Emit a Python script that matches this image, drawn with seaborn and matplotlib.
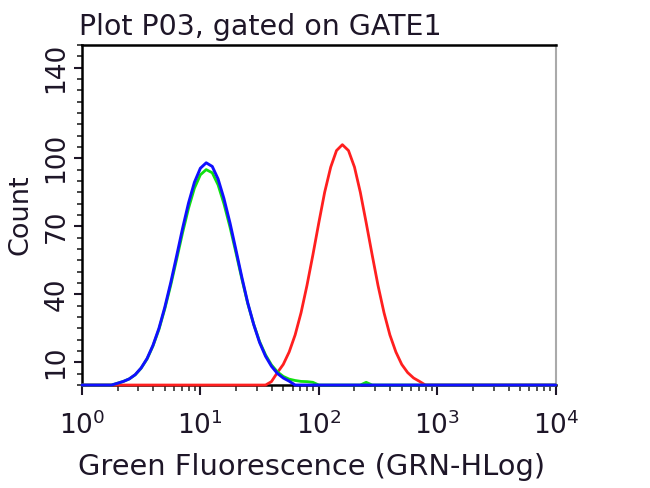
import matplotlib
matplotlib.use("Agg")
import matplotlib.pyplot as plt
import seaborn as sns
import pandas as pd
from matplotlib.ticker import LogLocator, MultipleLocator, FixedLocator

# ---- data ----
# fluorescence values (GRN-HLog), counts per series
fl_low = [1.0, 1.78, 2.0, 2.24, 2.51, 2.82, 3.16, 3.55, 3.98, 4.47, 5.01, 5.62, 6.31, 7.08, 7.94, 8.91,
          10.0, 11.2, 12.6, 14.1, 15.8, 17.8, 20.0, 22.4, 25.1, 28.2, 31.6, 35.5, 39.8,
          44.7, 50.1, 56.2, 63.1, 10000.0]
blue_counts = [0, 0, 0.8, 1.6, 2.7, 4.6, 7.5, 11.7, 17.5, 25.0, 34.3, 45.1, 57.0, 69.1, 80.2, 89.4,
               95.6, 98.0, 96.4, 90.9, 82.3, 71.4, 59.4, 47.5, 36.3, 26.7, 18.8, 12.7, 8.3,
               5.1, 3.1, 1.7, 0, 0]

fl_green = [1.0, 1.78, 2.0, 2.24, 2.51, 2.82, 3.16, 3.55, 3.98, 4.47, 5.01, 5.62, 6.31, 7.08, 7.94, 8.91,
            10.0, 11.2, 12.6, 14.1, 15.8, 17.8, 20.0, 22.4, 25.1, 28.2, 31.6, 35.5, 39.8,
            44.7, 50.1, 56.2, 63.1, 70.8, 79.4, 89.1, 100.0, 224.0, 251.0, 282.0, 10000.0]
green_counts = [0, 0, 0.8, 1.6, 2.7, 4.5, 7.4, 11.5, 17.2, 24.5, 33.6, 44.0, 55.5, 67.2, 77.9, 86.8,
                92.7, 95.0, 93.6, 88.3, 80.0, 69.6, 58.2, 46.8, 36.0, 26.8, 19.2, 13.3, 8.9,
                5.8, 3.8, 2.6, 2.0, 1.6, 1.5, 1.2, 0, 0, 1.2, 0, 0]

fl_red = [1.0, 35.5, 39.8, 44.7, 50.1, 56.2, 63.1, 70.8, 79.4, 89.1, 100.0, 112.0, 126.0, 141.0,
          158.0, 178.0, 200.0, 224.0, 251.0, 282.0, 316.0, 355.0, 398.0, 447.0, 501.0,
          562.0, 631.0, 708.0, 794.0, 10000.0]
red_counts = [0, 0, 1.5, 5.5, 9.1, 14.6, 22.1, 31.9, 43.9, 57.4, 71.6, 85.0, 96.1, 103.4,
              106.0, 103.4, 96.1, 85.0, 71.6, 57.4, 43.9, 31.9, 22.1, 14.6, 9.1, 5.5, 3.1,
              1.6, 0, 0]

y_tick_values = [10, 40, 70, 100, 140]
title_text = "Plot P03, gated on GATE1"
x_label = "Green Fluorescence (GRN-HLog)"
y_label = "Count"

# ---- build table ----
df = pd.concat([
    pd.DataFrame({"fl": fl_red, "count": red_counts, "sample": "red"}),
    pd.DataFrame({"fl": fl_green, "count": green_counts, "sample": "green"}),
    pd.DataFrame({"fl": fl_low, "count": blue_counts, "sample": "blue"}),
], ignore_index=True)

sns.set_style("white")
plt.rcParams["font.family"] = ["DejaVu Sans"]
text_color = "#1e1628"

fig = plt.figure(figsize=(6.5, 4.88), dpi=100)
ax = fig.add_axes([0.126, 0.211, 0.729, 0.697])

palette = {"red": "#ff1f1f", "green": "#10e010", "blue": "#1010ff"}
for name, lw in [("red", 2.0), ("green", 2.0), ("blue", 2.1)]:
    sub = df[df["sample"] == name]
    sns.lineplot(data=sub, x="fl", y="count", color=palette[name], lw=lw,
                 ax=ax, sort=False, estimator=None, clip_on=False, zorder=3)

ax.set_xscale("log")
ax.set_xlim(1, 10000)
ax.set_ylim(0, 150)

ax.xaxis.set_major_locator(LogLocator(base=10, numticks=10))
ax.xaxis.set_minor_locator(LogLocator(base=10, subs=range(2, 10), numticks=50))
ax.yaxis.set_major_locator(FixedLocator(y_tick_values))
ax.yaxis.set_minor_locator(MultipleLocator(5))

ax.tick_params(axis="x", which="major", direction="out", length=7, width=1.5,
               labelsize=19, pad=12, bottom=True, colors=text_color)
ax.tick_params(axis="x", which="minor", direction="out", length=4, width=1.2, bottom=True,
               colors="#333333")
ax.tick_params(axis="y", which="major", direction="out", length=6, width=1.5,
               labelsize=19, pad=3, left=True, labelrotation=90, colors=text_color)
ax.tick_params(axis="y", which="minor", direction="out", length=3.5, width=1.2, left=True)
for lab in ax.get_yticklabels():
    lab.set_va("center")

for side in ["top", "left", "bottom"]:
    ax.spines[side].set_color("black")
    ax.spines[side].set_linewidth(1.8)
ax.spines["right"].set_color("#aaaaaa")
ax.spines["right"].set_linewidth(1.5)

ax.set_xlabel(x_label, fontsize=20.8, color=text_color)
ax.xaxis.set_label_coords(0.484, -0.2)
ax.set_ylabel(y_label, fontsize=19.5, color=text_color)
ax.yaxis.set_label_coords(-0.103, 0.5)
fig.text(0.122, 0.945, title_text, fontsize=20.5, ha="left", va="center", color=text_color)

fig.savefig("out.png", dpi=100)
